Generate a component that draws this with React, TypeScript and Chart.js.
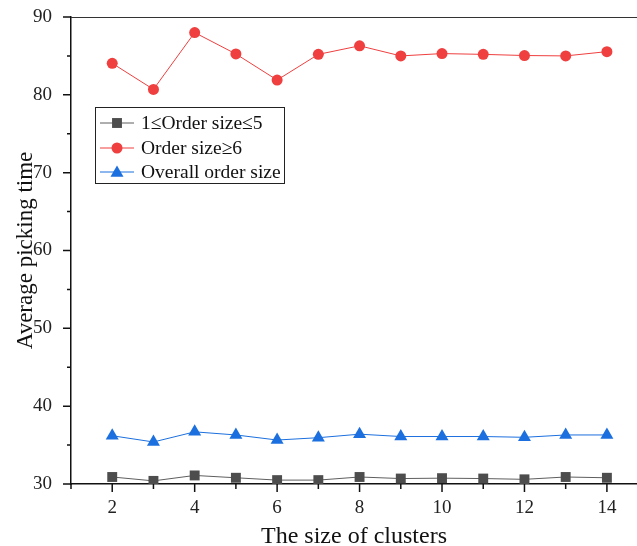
import React, { useEffect, useRef } from 'react';
import { Chart, registerables } from 'chart.js';

Chart.register(...registerables);

const clusterSizes = [2, 3, 4, 5, 6, 7, 8, 9, 10, 11, 12, 13, 14];
const smallOrders = [30.9, 30.4, 31.1, 30.8, 30.5, 30.5, 30.9, 30.7, 30.75, 30.7, 30.6, 30.9, 30.8];
const largeOrders = [84.05, 80.7, 88.0, 85.25, 81.9, 85.2, 86.3, 85.0, 85.3, 85.2, 85.05, 85.0, 85.55];
const overallOrders = [36.2, 35.4, 36.7, 36.3, 35.65, 35.95, 36.4, 36.1, 36.1, 36.1, 36.0, 36.3, 36.3];
const seriesNames = ['1≤Order size≤5', 'Order size≥6', 'Overall order size'];
const yTicks = [30, 40, 50, 60, 70, 80, 90];
const yMinorTicks = [35, 45, 55, 65, 75, 85];
const xTicks = [2, 4, 6, 8, 10, 12, 14];
const xMinorTicks = [1, 3, 5, 7, 9, 11, 13];

const FONT = '"Liberation Serif", "Times New Roman", serif';
const GREY = '#4d4d4d';
const GREY_LINE = '#5e5e5e';
const RED = '#ef3f3f';
const BLUE = '#1b6fde';

function drawMarker(ctx: CanvasRenderingContext2D, style: string, x: number, y: number, r: number, color: string) {
  ctx.fillStyle = color;
  ctx.beginPath();
  if (style === 'rect') {
    const s = r * Math.SQRT1_2;
    ctx.rect(x - s, y - s, 2 * s, 2 * s);
  } else if (style === 'circle') {
    ctx.arc(x, y, r, 0, Math.PI * 2);
  } else {
    const a = Math.PI / 2;
    ctx.moveTo(x + Math.cos(-a) * r, y + Math.sin(-a) * r);
    ctx.lineTo(x + Math.cos(-a + 2 * Math.PI / 3) * r, y + Math.sin(-a + 2 * Math.PI / 3) * r);
    ctx.lineTo(x + Math.cos(-a + 4 * Math.PI / 3) * r, y + Math.sin(-a + 4 * Math.PI / 3) * r);
    ctx.closePath();
  }
  ctx.fill();
}

const decorPlugin = {
  id: 'decor',
  afterDraw(chart: any) {
    const ctx: CanvasRenderingContext2D = chart.ctx;
    const { top, left, right, bottom } = chart.chartArea;
    const xs = chart.scales.x;
    const ys = chart.scales.y;
    ctx.save();
    // top frame line
    ctx.strokeStyle = '#333';
    ctx.lineWidth = 1;
    ctx.beginPath();
    ctx.moveTo(left, top + 0.5);
    ctx.lineTo(right, top + 0.5);
    ctx.stroke();
    // tick marks
    ctx.strokeStyle = '#111';
    ctx.lineWidth = 1.5;
    ctx.beginPath();
    yTicks.forEach((v) => {
      const py = ys.getPixelForValue(v);
      ctx.moveTo(left - 8, py);
      ctx.lineTo(left, py);
    });
    yMinorTicks.forEach((v) => {
      const py = ys.getPixelForValue(v);
      ctx.moveTo(left - 4, py);
      ctx.lineTo(left, py);
    });
    xTicks.forEach((v) => {
      const px = xs.getPixelForValue(v);
      ctx.moveTo(px, bottom);
      ctx.lineTo(px, bottom + 8);
    });
    xMinorTicks.forEach((v) => {
      const px = xs.getPixelForValue(v);
      ctx.moveTo(px, bottom);
      ctx.lineTo(px, bottom + 5);
    });
    ctx.stroke();

    // legend
    const bx = 95.5, by = 107.5, bw = 189, bh = 76;
    ctx.fillStyle = '#fff';
    ctx.fillRect(bx, by, bw, bh);
    ctx.strokeStyle = '#222';
    ctx.lineWidth = 1;
    ctx.strokeRect(bx, by, bw, bh);
    const rows = [123, 148, 172];
    const styles = ['rect', 'circle', 'triangle'];
    const lineColors = [GREY_LINE, RED, BLUE];
    const markColors = [GREY, RED, BLUE];
    const radii = [7, 5.5, 7.5];
    ctx.font = '19.5px ' + FONT;
    ctx.textBaseline = 'middle';
    ctx.textAlign = 'left';
    rows.forEach((ry, i) => {
      ctx.strokeStyle = lineColors[i];
      ctx.lineWidth = 1;
      ctx.beginPath();
      ctx.moveTo(100, ry);
      ctx.lineTo(134, ry);
      ctx.stroke();
      drawMarker(ctx, styles[i], 117, ry + (styles[i] === 'triangle' ? 1 : 0), radii[i], markColors[i]);
      ctx.fillStyle = '#111';
      ctx.fillText(seriesNames[i], 141, ry + 1);
    });
    ctx.restore();
  },
};

export default function App() {
  const ref = useRef<HTMLCanvasElement | null>(null);
  useEffect(() => {
    if (!ref.current) return;
    const mk = (vals: number[]) => clusterSizes.map((x, i) => ({ x, y: vals[i] }));
    const chart = new Chart(ref.current, {
      type: 'line',
      data: {
        datasets: [
          {
            label: seriesNames[0],
            data: mk(smallOrders),
            borderColor: GREY_LINE,
            borderWidth: 1,
            pointStyle: 'rect',
            pointRadius: 7,
            pointBackgroundColor: GREY,
            pointBorderColor: GREY,
            pointBorderWidth: 0,
          },
          {
            label: seriesNames[1],
            data: mk(largeOrders),
            borderColor: RED,
            borderWidth: 1,
            pointStyle: 'circle',
            pointRadius: 5.5,
            pointBackgroundColor: RED,
            pointBorderColor: RED,
            pointBorderWidth: 0,
          },
          {
            label: seriesNames[2],
            data: mk(overallOrders),
            borderColor: BLUE,
            borderWidth: 1,
            pointStyle: 'triangle',
            pointRadius: 7.5,
            pointBackgroundColor: BLUE,
            pointBorderColor: BLUE,
            pointBorderWidth: 0,
          },
        ],
      },
      options: {
        animation: false,
        responsive: false,
        maintainAspectRatio: false,
        layout: { padding: { top: 17, right: 0, left: 0, bottom: 0 }, autoPadding: false },
        plugins: { legend: { display: false }, tooltip: { enabled: false } },
        scales: {
          x: {
            type: 'linear',
            min: 1,
            max: 14.73,
            grid: { display: false, drawTicks: false },
            border: { display: true, color: '#111', width: 1.5 },
            afterBuildTicks: (s: any) => {
              s.ticks = xTicks.map((v) => ({ value: v }));
            },
            afterFit: (s: any) => {
              s.height = 62;
              s.paddingLeft = 0;
              s.paddingRight = 0;
            },
            ticks: {
              padding: 13,
              color: '#222',
              font: { family: FONT, size: 19 },
              maxRotation: 0,
              autoSkip: false,
            },
            title: {
              display: true,
              text: 'The size of clusters',
              color: '#111',
              font: { family: FONT, size: 24 },
              padding: { top: 0, bottom: -5 },
            },
          },
          y: {
            type: 'linear',
            min: 30,
            max: 90,
            grid: { display: false, drawTicks: false },
            border: { display: true, color: '#111', width: 1.5 },
            afterBuildTicks: (s: any) => {
              s.ticks = yTicks.map((v) => ({ value: v }));
            },
            afterFit: (s: any) => {
              s.width = 71;
              s.paddingTop = 0;
              s.paddingBottom = 0;
            },
            ticks: {
              padding: 19,
              color: '#222',
              font: { family: FONT, size: 19 },
              autoSkip: false,
            },
            title: {
              display: true,
              text: 'Average picking time',
              color: '#111',
              font: { family: FONT, size: 23 },
              padding: { top: 12.5, bottom: 0 },
            },
          },
        },
      },
      plugins: [decorPlugin],
    });
    return () => chart.destroy();
  }, []);
  return (
    <div style={{ position: 'fixed', left: 0, top: 0, width: 637, height: 546, background: '#fff' }}>
      <canvas ref={ref} width={637} height={546} style={{ display: 'block' }} />
    </div>
  );
}
